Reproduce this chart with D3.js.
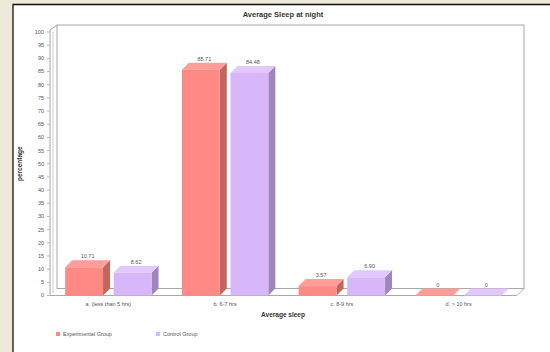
<!DOCTYPE html>
<html>
<head>
<meta charset="utf-8">
<script src="https://cdn.jsdelivr.net/npm/d3@7"></script>
<style>
  html, body { margin: 0; padding: 0; background: #ECE9D8; }
  svg { display: block; }
  text { font-family: "Liberation Sans", Arial, sans-serif; }
</style>
</head>
<body>
<svg id="chart" width="550" height="352"></svg>
<script>
// Sleep duration categories and the share of each group (percent)
const categories = ["a. (less than 5 hrs)", "b. 6-7 hrs", "c. 8-9 hrs", "d. > 10 hrs"];
const seriesNames = ["Experimental Group", "Control Group"];
const experimental = [10.71, 85.71, 3.57, 0];
const control = [8.62, 84.48, 6.90, 0];
const yTicks = d3.range(0, 101, 5);

const seriesValues = [experimental, control];
const colors = [
  { front: "#FF8A85", side: "#C4645F", top: "#FF9E99" },
  { front: "#D8B6FA", side: "#9F86BA", top: "#E3C8FF" }
];

const svg = d3.select("#chart");

// White panel framed by a dark border
svg.append("rect").attr("x", 13).attr("y", 4).attr("width", 537).attr("height", 348)
  .attr("fill", "#fff");
svg.append("path").attr("d", "M13,352 V4.5 H550").attr("fill", "none")
  .attr("stroke", "#111").attr("stroke-width", 1.3);

// Plot geometry with a 3D depth offset
const plotLeft = 50, plotRight = 517, plotTop = 32, plotBottom = 295.5;
const dx = 7, dy = 7;

const x = d3.scaleBand().domain(categories).range([plotLeft, plotRight])
  .paddingInner(0.26).paddingOuter(0.13);
const xs = d3.scaleBand().domain(d3.range(seriesNames.length)).range([0, x.bandwidth()])
  .paddingInner(0.22);
const y = d3.scaleLinear().domain([0, 100]).range([plotBottom, plotTop]);

// Walls and floor
const wall = svg.append("g").attr("fill", "none").attr("stroke", "#a8a8a8").attr("stroke-width", 1);
wall.append("rect").attr("x", plotLeft + dx).attr("y", plotTop - dy)
  .attr("width", plotRight - plotLeft).attr("height", plotBottom - plotTop).attr("fill", "#fff");
wall.append("path").attr("d",
  `M${plotLeft},${plotTop - 2} L${plotLeft + dx},${plotTop - dy} M${plotLeft},${plotTop - 2} V${plotBottom} H${plotRight} L${plotRight + dx},${plotBottom - dy}`);
wall.append("path").attr("stroke", "#d0d0d0").attr("d",
  `M${plotLeft + 3},${plotTop} V${plotBottom - 2}`);

// Y axis ticks and labels
const yAxis = svg.append("g");
yTicks.forEach(t => {
  yAxis.append("line").attr("x1", plotLeft - 3).attr("x2", plotLeft).attr("y1", y(t)).attr("y2", y(t))
    .attr("stroke", "#bbb");
  yAxis.append("text").attr("x", plotLeft - 6).attr("y", y(t)).attr("dy", "0.35em")
    .attr("text-anchor", "end").attr("font-size", 5.5).attr("fill", "#555").text(t);
});
svg.append("text").attr("transform", `translate(22,${(plotTop + plotBottom) / 2}) rotate(-90)`)
  .attr("text-anchor", "middle").attr("font-size", 6.5).attr("font-weight", "bold")
  .attr("fill", "#333").text("percentage");

// 3D bars
const bars = svg.append("g");
categories.forEach((c, i) => {
  seriesValues.forEach((vals, s) => {
    const v = vals[i];
    const x0 = x(c) + xs(s), w = xs.bandwidth();
    const y0 = y(v), y1 = y(0);
    const col = colors[s];
    // right side face
    bars.append("path").attr("fill", col.side).attr("d",
      `M${x0 + w},${y0} L${x0 + w + dx},${y0 - dy} L${x0 + w + dx},${y1 - dy} L${x0 + w},${y1} Z`);
    // top face
    bars.append("path").attr("fill", col.top).attr("d",
      `M${x0},${y0} L${x0 + dx},${y0 - dy} L${x0 + w + dx},${y0 - dy} L${x0 + w},${y0} Z`);
    // front face
    bars.append("rect").attr("x", x0).attr("y", y0).attr("width", w).attr("height", y1 - y0)
      .attr("fill", col.front);
    // value label
    bars.append("text").attr("x", x0 + w / 2 + dx / 2).attr("y", y0 - dy - 2)
      .attr("text-anchor", "middle").attr("font-size", 5.5).attr("fill", "#555")
      .text(v === 0 ? "0" : d3.format(".2f")(v));
  });
});

// Category labels and axis title
categories.forEach(c => {
  svg.append("text").attr("x", x(c) + x.bandwidth() / 2).attr("y", plotBottom + 10)
    .attr("text-anchor", "middle").attr("font-size", 5.5).attr("fill", "#555").text(c);
});
svg.append("text").attr("x", 283).attr("y", 317).attr("text-anchor", "middle")
  .attr("font-size", 6.5).attr("font-weight", "bold").attr("fill", "#333").text("Average sleep");

// Title
svg.append("text").attr("x", 283).attr("y", 17).attr("text-anchor", "middle")
  .attr("font-size", 7.5).attr("font-weight", "bold").attr("fill", "#333")
  .text("Average Sleep at night");

// Legend
const legendX = [56, 156];
seriesNames.forEach((n, s) => {
  svg.append("rect").attr("x", legendX[s]).attr("y", 332).attr("width", 4).attr("height", 4)
    .attr("fill", colors[s].front);
  svg.append("text").attr("x", legendX[s] + 7).attr("y", 334).attr("dy", "0.35em")
    .attr("font-size", 5.5).attr("fill", "#555").text(n);
});
</script>
</body>
</html>
